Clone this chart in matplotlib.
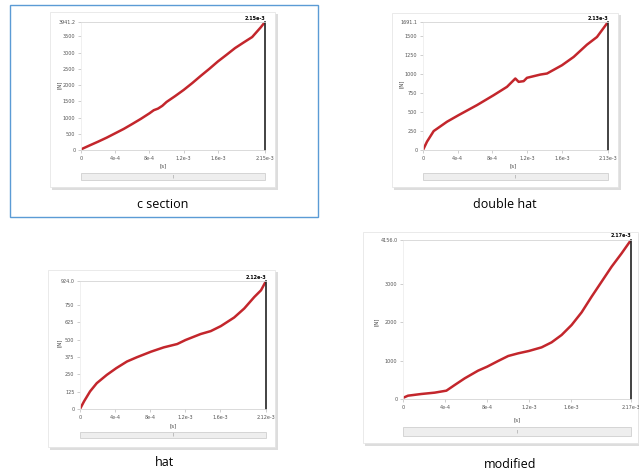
import matplotlib.pyplot as plt
from matplotlib.patches import Rectangle

W, H = 639, 476

# c section
cs_t = [0, 1e-4, 2e-4, 3e-4, 4e-4, 5e-4, 6e-4, 7e-4, 8e-4, 8.5e-4, 9e-4, 9.5e-4, 1e-3, 1.1e-3,
        1.2e-3, 1.3e-3, 1.4e-3, 1.5e-3, 1.6e-3, 1.7e-3, 1.8e-3, 1.9e-3, 2.0e-3, 2.1e-3, 2.15e-3]
cs_f = [20, 140, 257, 380, 515, 650, 803, 960, 1130, 1225, 1275, 1360, 1480, 1660,
        1850, 2060, 2284, 2500, 2727, 2930, 3138, 3310, 3478, 3776, 3941]

# double hat
dh_t = [0, 0.046e-3, 0.123e-3, 0.276e-3, 0.411e-3, 0.622e-3, 0.814e-3, 0.967e-3, 1.044e-3, 1.063e-3,
        1.101e-3, 1.159e-3, 1.197e-3, 1.351e-3, 1.428e-3, 1.600e-3, 1.735e-3, 1.888e-3, 2.003e-3, 2.13e-3]
dh_f = [0, 110, 250, 373, 461, 593, 724, 834, 922, 944,
        900, 909, 953, 996, 1010, 1119, 1229, 1391, 1492, 1690]

# hat
h_t = [0, 4.6e-5, 1.15e-4, 1.91e-4, 3.06e-4, 4.13e-4, 5.35e-4, 6.49e-4, 8.10e-4, 9.55e-4,
       1.108e-3, 1.203e-3, 1.375e-3, 1.490e-3, 1.605e-3, 1.757e-3, 1.872e-3, 1.987e-3, 2.063e-3, 2.12e-3]
h_f = [0, 55, 127, 186, 246, 294, 342, 373, 413, 444,
       468, 497, 540, 561, 597, 659, 724, 807, 855, 922]

# modified
m_t = [0, 4.8e-5, 1.74e-4, 3.01e-4, 4.12e-4, 4.91e-4, 5.86e-4, 7.13e-4, 7.99e-4, 9.03e-4, 9.99e-4,
       1.094e-3, 1.195e-3, 1.316e-3, 1.411e-3, 1.506e-3, 1.601e-3, 1.696e-3, 1.791e-3, 1.886e-3,
       1.981e-3, 2.076e-3, 2.165e-3]
m_f = [30, 87, 131, 166, 218, 366, 540, 741, 845, 993, 1124,
       1194, 1255, 1350, 1481, 1673, 1934, 2265, 2675, 3067,
       3459, 3808, 4156]

x_ticks = [0, 4e-4, 8e-4, 1.2e-3, 1.6e-3]
x_labels = ["0", "4e-4", "8e-4", "1.2e-3", "1.6e-3"]


def fr(x0, y0, x1, y1):
    return [x0 / W, 1 - y1 / H, (x1 - x0) / W, (y1 - y0) / H]


def box(fig, x0, y0, x1, y1, **kw):
    r = fr(x0, y0, x1, y1)
    fig.add_artist(Rectangle((r[0], r[1]), r[2], r[3], transform=fig.transFigure, **kw))


def panel(fig, t, f, tend, endlab, yticks, ytop, ytoplab, caption, card, axb, sb, xl, yl, cap):
    box(fig, card[0] + 2, card[1] + 2, card[2] + 3, card[3] + 3, fc="#cfcfcf", ec="none", alpha=0.7, zorder=-3)
    box(fig, *card, fc="white", ec="#e2e2e2", lw=0.5, zorder=-2)
    ax = fig.add_axes(fr(*axb))
    ax.set_zorder(2)
    ax.plot(t, f, color="#c3262c", lw=1.8)
    ax.set_xlim(0, tend)
    ax.set_ylim(0, ytop)
    ax.set_xticks(x_ticks + [tend], x_labels + [endlab])
    ax.set_yticks(yticks + [ytop], [str(v) for v in yticks] + [ytoplab])
    ax.tick_params(labelsize=3.5, labelcolor="#555555", length=2, width=0.4, color="#aaaaaa", pad=2)
    for s in ["top", "bottom", "left"]:
        ax.spines[s].set_color("#d5d5d5")
        ax.spines[s].set_linewidth(0.6)
    ax.spines["left"].set_color("#eeeeee")
    ax.spines["right"].set_color("#222222")
    ax.spines["right"].set_linewidth(1.2)
    ax.text(1, 1.01, endlab, transform=ax.transAxes, ha="right", va="bottom", fontsize=3.5, weight="bold")
    box(fig, *sb, fc="#eeeeee", ec="#c8c8c8", lw=0.5)
    fig.text((sb[0] + sb[2]) / 2 / W, 1 - (sb[1] + sb[3]) / 2 / H, "|", fontsize=3, ha="center", va="center",
             color="#777777")
    fig.text(xl[0] / W, 1 - xl[1] / H, "[s]", fontsize=4, ha="center", va="center", color="#444444")
    fig.text(yl[0] / W, 1 - yl[1] / H, "[N]", fontsize=4, ha="center", va="center", rotation=90, color="#444444")
    fig.text(cap[0] / W, 1 - cap[1] / H, caption, fontsize=9, ha="center", va="center", family="Open Sans")


fig = plt.figure(figsize=(6.39, 4.76), dpi=100)
fig.patch.set_facecolor("white")

# selection frame around first panel
box(fig, 10, 5, 318, 217, fc="none", ec="#5b9bd5", lw=1.0)

panel(fig, cs_t, cs_f, 2.15e-3, "2.15e-3", [0, 500, 1000, 1500, 2000, 2500, 3000, 3500], 3941, "3941.2",
      "c section", (50, 12, 275, 187), (81, 22, 265, 150), (81, 173, 265, 180), (163, 166), (59, 85), (163, 205))
panel(fig, dh_t, dh_f, 2.13e-3, "2.13e-3", [0, 250, 500, 750, 1000, 1250, 1500], 1690, "1691.1",
      "double hat", (392, 13, 618, 187), (423, 22, 608, 150), (423, 173, 608, 180), (513, 166), (401, 84),
      (505, 205))
panel(fig, h_t, h_f, 2.12e-3, "2.12e-3", [0, 125, 250, 375, 500, 625, 750], 922, "924.0",
      "hat", (48, 270, 275, 447), (80, 281, 266, 409), (80, 432, 266, 438), (173, 426), (59, 343), (164, 463))
panel(fig, m_t, m_f, 2.165e-3, "2.17e-3", [0, 1000, 2000, 3000], 4156, "4156.0",
      "modified", (363, 232, 638, 443), (403, 240, 631, 399), (403, 427, 631, 436), (517, 420), (376, 322),
      (510, 465))

fig.savefig("out.png", dpi=100)
